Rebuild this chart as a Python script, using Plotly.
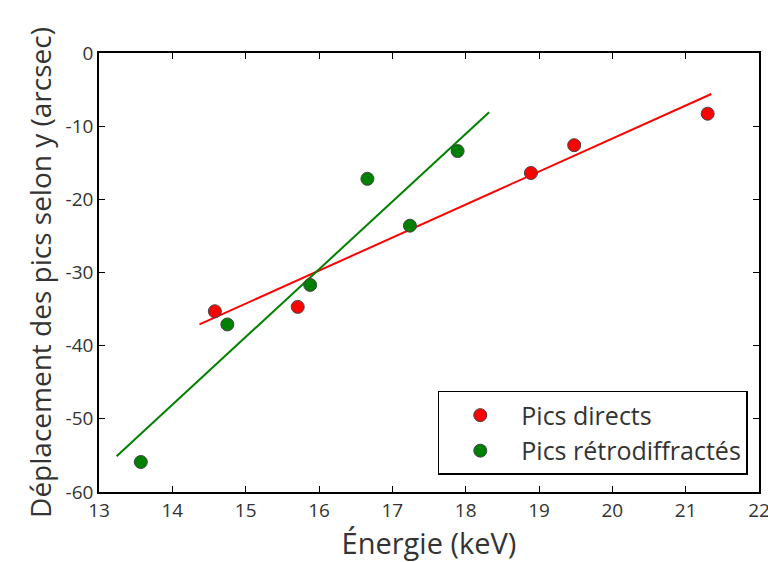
import plotly.graph_objects as go

# Pics directs
direct_e = [14.58, 15.71, 18.89, 19.48, 21.30]
direct_dy = [-35.3, -34.7, -16.4, -12.6, -8.3]
# Pics rétrodiffractés
retro_e = [13.57, 14.75, 15.88, 16.66, 17.24, 17.89]
retro_dy = [-55.9, -37.1, -31.7, -17.2, -23.6, -13.4]
# fitted lines (endpoints)
direct_fit_e = [14.37, 21.35]
direct_fit_dy = [-37.1, -5.6]
retro_fit_e = [13.24, 18.32]
retro_fit_dy = [-55.1, -8.1]

xticks = [13, 14, 15, 16, 17, 18, 19, 20, 21, 22]
yticks = [-60, -50, -40, -30, -20, -10, 0]
ytick_labels = ["-60", "-50", "-40", "-30", "-20", "-10", "0"]

fig = go.Figure()
fig.add_trace(go.Scatter(x=direct_fit_e, y=direct_fit_dy, mode="lines",
                         line=dict(color="#ff0000", width=2), showlegend=False,
                         hoverinfo="skip"))
fig.add_trace(go.Scatter(x=retro_fit_e, y=retro_fit_dy, mode="lines",
                         line=dict(color="#008000", width=2), showlegend=False,
                         hoverinfo="skip"))
fig.add_trace(go.Scatter(x=direct_e, y=direct_dy, mode="markers", name="Pics directs",
                         marker=dict(color="#ff0000", size=13,
                                     line=dict(color="#444444", width=1))))
fig.add_trace(go.Scatter(x=retro_e, y=retro_dy, mode="markers", name="Pics rétrodiffractés",
                         marker=dict(color="#008000", size=13,
                                     line=dict(color="#444444", width=1))))

axis_style = dict(showline=True, linecolor="black", linewidth=1.5, mirror="ticks",
                  ticks="inside", ticklen=6, tickcolor="black", showgrid=False,
                  zeroline=False, automargin=False, ticklabeloverflow="allow",
                  tickfont=dict(size=19, color="#333333"))

fig.update_layout(
    width=768, height=562,
    margin=dict(l=99, r=9, t=53, b=70),
    plot_bgcolor="white", paper_bgcolor="white",
    font=dict(family="Open Sans", color="#333333"),
    legend=dict(x=0.983, y=0.039, xanchor="right", yanchor="bottom",
                bordercolor="black", borderwidth=1.5, bgcolor="white",
                font=dict(size=25), tracegroupgap=4, itemwidth=72),
)
fig.update_xaxes(range=[13, 22], tickvals=xticks,
                 title=dict(text="Énergie (keV)", font=dict(size=29), standoff=6),
                 **axis_style)
fig.update_yaxes(range=[-60, 0], tickvals=yticks, ticktext=ytick_labels,
                 title=dict(text="Déplacement des pics selon y (arcsec)", font=dict(size=28),
                            standoff=6),
                 **axis_style)

# page body has a default 8px margin and may scroll; remove both
page_js = ("document.body.style.margin='0';"
           "document.body.style.overflow='hidden';"
           "document.documentElement.style.overflow='hidden';")
fig.write_html("out.html", post_script=page_js, config={"displayModeBar": False})
